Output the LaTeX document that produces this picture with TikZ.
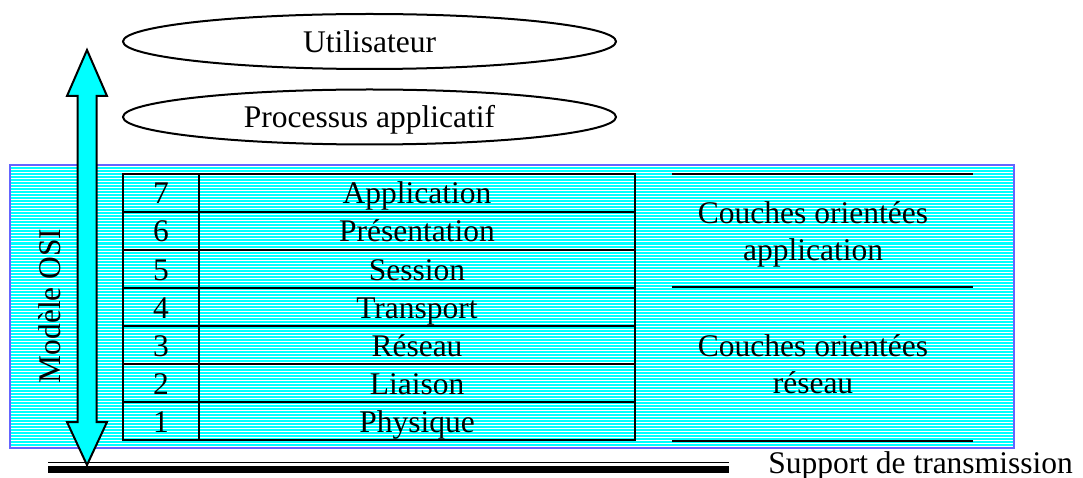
\documentclass[tikz,border=0pt]{standalone}
\usepackage{fontspec}
\setmainfont{Liberation Serif}
\usetikzlibrary{shapes.geometric}
\definecolor{osicyan}{RGB}{0,255,255}
\definecolor{osiframe}{RGB}{100,100,255}
\begin{document}
\begin{tikzpicture}[x=1pt,y=-1pt,
  lbl/.style={font=\fontsize{31.5}{37}\selectfont, inner sep=0pt, outer sep=0pt},
  cell/.style={lbl, draw, line width=2pt, minimum height=38pt, text height=29pt, text depth=7pt},
  numcell/.style={cell, minimum width=76pt},
  namecell/.style={cell, minimum width=436pt},
  bubble/.style={lbl, ellipse, draw, line width=2pt, minimum width=493pt, minimum height=55pt, text height=29pt, text depth=7pt},
  rule/.style={line width=2pt},
  stripe/.style={white, line width=1pt},
  bigarrow/.style={fill=osicyan, draw=black, line width=2pt, line join=miter}
]
\useasboundingbox (0,0) rectangle (1083,478);

% striped cyan band holding the layer stack
\fill[osicyan] (10,165) rectangle (1014,448);
\foreach \k in {0,...,93}
  \draw[stripe] (10,{167+3*\k}) -- (1014,{167+3*\k});
\draw[osiframe, line width=2pt] (10,165) rectangle (1014,448);

% the seven layers
\foreach \n/\name [count=\i from 0] in {7/Application,6/Présentation,5/Session,4/Transport,3/Réseau,2/Liaison,1/Physique} {
  \node[numcell] (num\n) at (161,{193+38*\i}) {\n};
  \node[namecell] (layer\n) at (417,{193+38*\i}) {\name};
}

% grouping rules on the right
\draw[rule] (672,174) -- (973,174);
\draw[rule] (672,287) -- (973,287);
\draw[rule] (672,441) -- (973,441);
\node[lbl, align=center] (appgroup) at (813,234) {Couches orientées\\application};
\node[lbl, align=center] (netgroup) at (813,364.5) {Couches orientées\\réseau};

% double-headed arrow spanning the model
\draw[bigarrow] (87,50) -- (107,96) -- (96.5,96) -- (96.5,422) -- (107,422)
  -- (87,465) -- (67,422) -- (77.5,422) -- (77.5,96) -- (67,96) -- cycle;
\node[lbl, rotate=90, text height=29pt, text depth=7pt] (osi) at (49,306) {Modèle OSI};

% user and application process
\node[bubble] (user) at (369.5,41.5) {Utilisateur};
\node[bubble] (process) at (369.5,117) {Processus applicatif};

% transmission medium
\draw[line width=1.5pt] (48,462.5) -- (729,462.5);
\draw[line width=7pt] (48,469.5) -- (729,469.5);
\node[lbl, anchor=base] (medium) at (920.5,473) {Support de transmission};
\end{tikzpicture}
\end{document}
